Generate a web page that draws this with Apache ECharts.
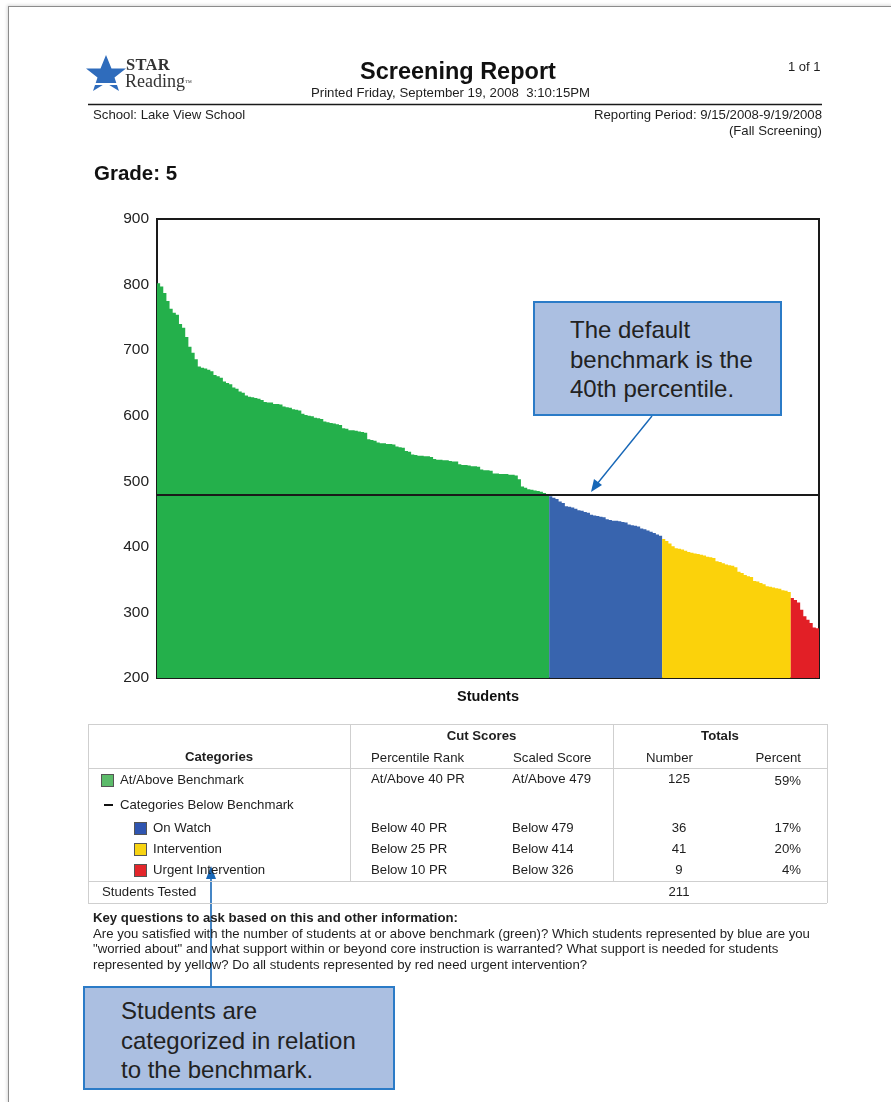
<!DOCTYPE html>
<html>
<head>
<meta charset="utf-8">
<title>Screening Report</title>
<script src="https://cdn.jsdelivr.net/npm/echarts@6/dist/echarts.min.js"></script>
<style>
  html, body { margin: 0; padding: 0; background: #fff; }
  body { width: 891px; height: 1102px; position: relative; overflow: hidden;
         font-family: "Liberation Sans", Arial, Helvetica, sans-serif; color: #1e1e1e; }
  .abs { position: absolute; white-space: nowrap; line-height: 1; }
  #chart { position: absolute; left: 0; top: 0; width: 891px; height: 1102px; }
  .page { position: absolute; left: 8px; top: 6px; right: -2px; bottom: -2px;
          border-top: 1px solid #8c8c8c; border-left: 1px solid #8c8c8c;
          box-shadow: -1px -1px 3px rgba(0,0,0,0.15); }
  .hl { position: absolute; height: 0; border-top: 1px solid #cfcfcf; }
  .vl { position: absolute; width: 0; border-left: 1px solid #cfcfcf; }
  .t { position: absolute; white-space: nowrap; font-size: 13.2px; line-height: 1; color: #1e1e1e; }
  .b { font-weight: bold; }
  .r { text-align: right; }
  .c { text-align: center; }
  .sw { position: absolute; width: 11px; height: 11px; border: 1px solid #555; }
  .callout { position: absolute; background: #abbfe1; border: 2px solid #2b7bc7; box-sizing: border-box;
             font-size: 24px; line-height: 29.5px; color: #222; }
</style>
</head>
<body>
<div class="page"></div>
<div id="chart"></div>

<svg class="abs" style="left:0;top:0" width="891" height="1102">
  <!-- logo star -->
  <polygon points="106,55 111.5,68.5 126,68.5 114.5,77.5 119,91 106,83 93,91 97.5,77.5 86,68.5 100.5,68.5" fill="#2f6cbc"/>
  <rect x="86" y="83" width="42" height="2" fill="#fff"/>
  <!-- header rule -->
  <line x1="88" y1="104.5" x2="822" y2="104.5" stroke="#1a1a1a" stroke-width="1.6"/>
  <!-- callout arrows -->
  <line x1="652" y1="416" x2="597" y2="484" stroke="#1767b7" stroke-width="1.4"/>
  <polygon points="591,492 594,479 602,485" fill="#1767b7"/>
  <line x1="211" y1="987" x2="211" y2="876" stroke="#1767b7" stroke-width="1.6"/>
  <polygon points="211,866 206,879 216,879" fill="#1767b7"/>
</svg>

<div class="abs" style="left:126px;top:57px;font-family:'Liberation Serif','DejaVu Serif',serif;font-size:16.5px;font-weight:bold;color:#333;letter-spacing:0.3px">STAR</div>
<div class="abs" style="left:125px;top:72px;font-family:'Liberation Serif','DejaVu Serif',serif;font-size:18px;color:#333">Reading<span style="font-size:7px;vertical-align:2px">™</span></div>

<div class="abs b" style="left:360px;top:60px;font-size:23.5px;font-weight:bold;color:#111">Screening Report</div>
<div class="abs" style="left:311px;top:86px;font-size:13.2px">Printed Friday, September 19, 2008&nbsp; 3:10:15PM</div>
<div class="abs" style="left:788px;top:60px;font-size:13px">1 of 1</div>
<div class="abs" style="left:93px;top:108px;font-size:13.2px">School: Lake View School</div>
<div class="abs r" style="right:69px;top:108px;font-size:13.2px">Reporting Period: 9/15/2008-9/19/2008</div>
<div class="abs r" style="right:69px;top:124px;font-size:13.2px">(Fall Screening)</div>
<div class="abs b" style="left:94px;top:163px;font-size:20.5px;font-weight:bold;color:#111">Grade: 5</div>

<!-- summary table -->
<div class="hl" style="left:88px;top:724px;width:739px"></div>
<div class="hl" style="left:88px;top:768px;width:739px"></div>
<div class="hl" style="left:88px;top:881px;width:739px"></div>
<div class="hl" style="left:88px;top:903px;width:739px"></div>
<div class="vl" style="left:88px;top:724px;height:179px"></div>
<div class="vl" style="left:827px;top:724px;height:179px"></div>
<div class="vl" style="left:350px;top:724px;height:157px"></div>
<div class="vl" style="left:613px;top:724px;height:157px"></div>

<div class="t b c" style="left:350px;width:263px;top:729px">Cut Scores</div>
<div class="t b c" style="left:613px;width:214px;top:729px">Totals</div>
<div class="t b c" style="left:88px;width:262px;top:750px">Categories</div>
<div class="t" style="left:371px;top:751px">Percentile Rank</div>
<div class="t" style="left:513px;top:751px">Scaled Score</div>
<div class="t" style="left:646px;top:751px">Number</div>
<div class="t r" style="left:700px;width:101px;top:751px">Percent</div>

<div class="sw" style="left:101px;top:774px;background:#5cbb6a"></div>
<div class="t" style="left:120px;top:773px">At/Above Benchmark</div>
<div class="t" style="left:371px;top:772px">At/Above 40 PR</div>
<div class="t" style="left:512px;top:772px">At/Above 479</div>
<div class="t c" style="left:649px;width:60px;top:772px">125</div>
<div class="t r" style="left:700px;width:101px;top:774px">59%</div>

<div class="abs" style="left:104px;top:804px;width:9px;height:2px;background:#111"></div>
<div class="t" style="left:120px;top:798px">Categories Below Benchmark</div>

<div class="sw" style="left:134px;top:822px;background:#2f55b0"></div>
<div class="t" style="left:153px;top:821px">On Watch</div>
<div class="t" style="left:371px;top:821px">Below 40 PR</div>
<div class="t" style="left:512px;top:821px">Below 479</div>
<div class="t c" style="left:649px;width:60px;top:821px">36</div>
<div class="t r" style="left:700px;width:101px;top:821px">17%</div>

<div class="sw" style="left:134px;top:843px;background:#f7d312"></div>
<div class="t" style="left:153px;top:842px">Intervention</div>
<div class="t" style="left:371px;top:842px">Below 25 PR</div>
<div class="t" style="left:512px;top:842px">Below 414</div>
<div class="t c" style="left:649px;width:60px;top:842px">41</div>
<div class="t r" style="left:700px;width:101px;top:842px">20%</div>

<div class="sw" style="left:134px;top:864px;background:#e3262b"></div>
<div class="t" style="left:153px;top:863px">Urgent Intervention</div>
<div class="t" style="left:371px;top:863px">Below 10 PR</div>
<div class="t" style="left:512px;top:863px">Below 326</div>
<div class="t c" style="left:649px;width:60px;top:863px">9</div>
<div class="t r" style="left:700px;width:101px;top:863px">4%</div>

<div class="t" style="left:102px;top:885px">Students Tested</div>
<div class="t c" style="left:649px;width:60px;top:885px">211</div>

<!-- guidance text -->
<div class="t b" style="left:93px;top:911px">Key questions to ask based on this and other information:</div>
<div class="abs" style="left:93px;top:926px;font-size:13.2px;line-height:15.3px;white-space:normal;width:740px">Are you satisfied with the number of students at or above benchmark (green)? Which students represented by blue are you<br>"worried about" and what support within or beyond core instruction is warranted? What support is needed for students<br>represented by yellow? Do all students represented by red need urgent intervention?</div>

<!-- callouts -->
<div class="callout" style="left:533px;top:301px;width:249px;height:115px;padding:12px 0 0 35px">The default<br>benchmark is the<br>40th percentile.</div>
<div class="callout" style="left:83px;top:986px;width:312px;height:104px;padding:8px 0 0 36px">Students are<br>categorized in relation<br>to the benchmark.</div>

<script>
// Scaled scores of the 211 tested students, highest first, grouped by category
const aboveBenchmark = [
  802, 797, 787, 775, 763, 757, 754, 740, 734, 720,
  705, 696, 686, 675, 673, 672, 670, 668, 662, 660,
  658, 652, 650, 648, 643, 641, 637, 635, 631, 629,
  628, 627, 626, 624, 621, 620, 620, 618, 618, 617,
  614, 613, 612, 610, 609, 608, 603, 601, 600, 599,
  597, 596, 595, 591, 590, 589, 588, 587, 586, 581,
  580, 578, 578, 577, 576, 575, 574, 564, 563, 562,
  559, 558, 558, 557, 557, 556, 553, 552, 551, 546,
  545, 541, 540, 539, 539, 538, 538, 537, 534, 533,
  533, 532, 532, 531, 530, 530, 526, 525, 525, 524,
  523, 523, 522, 518, 517, 517, 516, 512, 512, 511,
  511, 511, 510, 510, 509, 503, 492, 490, 488, 487,
  486, 485, 484, 482, 480
];
const onWatch = [
  477, 475, 473, 469, 467, 462, 461, 460, 458, 456,
  455, 453, 452, 449, 448, 447, 446, 445, 442, 441,
  440, 440, 439, 438, 437, 434, 433, 432, 431, 428,
  427, 425, 423, 421, 419, 417
];
const intervention = [
  412, 409, 405, 401, 398, 397, 396, 394, 392, 391,
  390, 389, 388, 387, 385, 384, 383, 378, 377, 375,
  373, 372, 371, 369, 362, 360, 357, 355, 354, 348,
  347, 345, 343, 340, 339, 338, 337, 336, 334, 333,
  331
];
const urgentIntervention = [322, 319, 315, 304, 294, 289, 284, 277, 276];

const benchmarkScore = 479;
const yTicks = { min: 200, max: 900, step: 100 };

const groups = [
  { name: 'At/Above Benchmark', scores: aboveBenchmark, color: '#24b04b' },
  { name: 'On Watch', scores: onWatch, color: '#3864ae' },
  { name: 'Intervention', scores: intervention, color: '#fbd20b' },
  { name: 'Urgent Intervention', scores: urgentIntervention, color: '#e21f26' }
];

const total = groups.reduce((n, g) => n + g.scores.length, 0);
const students = Array.from({ length: total }, (_, i) => String(i + 1));

// one bar series per category, each occupying its own run of students;
// large mode fills each series as a single path so neighbouring bars join cleanly
let offset = 0;
const series = groups.map((g, gi) => {
  const data = new Array(total).fill('-');
  g.scores.forEach((v, k) => { data[offset + k] = v; });
  offset += g.scores.length;
  const s = {
    name: g.name,
    type: 'bar',
    data: data,
    large: true,
    largeThreshold: 1,
    barCategoryGap: '0%',
    barGap: '-100%',
    clip: true,
    itemStyle: { color: g.color }
  };
  if (gi === groups.length - 1) {
    s.markLine = {
      silent: true,
      symbol: 'none',
      label: { show: false },
      lineStyle: { color: '#1a1a1a', width: 2, type: 'solid' },
      data: [{ yAxis: benchmarkScore }]
    };
  }
  return s;
});

const chart = echarts.init(document.getElementById('chart'), null, { renderer: 'canvas' });
chart.setOption({
  animation: false,
  backgroundColor: 'transparent',
  grid: {
    left: 157, top: 219, width: 662, height: 459,
    show: true, borderColor: '#1a1a1a', borderWidth: 2, backgroundColor: '#fff'
  },
  xAxis: {
    type: 'category',
    data: students,
    name: 'Students',
    nameLocation: 'middle',
    nameGap: 11,
    nameTextStyle: { fontFamily: 'Liberation Sans, Arial', fontSize: 14.5, fontWeight: 'bold', color: '#111' },
    axisLine: { show: true, lineStyle: { color: '#1a1a1a', width: 2 } },
    axisTick: { show: false },
    axisLabel: { show: false },
    splitLine: { show: false }
  },
  yAxis: {
    type: 'value',
    min: yTicks.min,
    max: yTicks.max,
    interval: yTicks.step,
    axisLine: { show: true, lineStyle: { color: '#1a1a1a', width: 2 } },
    axisTick: { show: false },
    splitLine: { show: false },
    axisLabel: { margin: 8, fontFamily: 'Liberation Sans, Arial', fontSize: 15.5, color: '#222' }
  },
  series: series
});
</script>
</body>
</html>
